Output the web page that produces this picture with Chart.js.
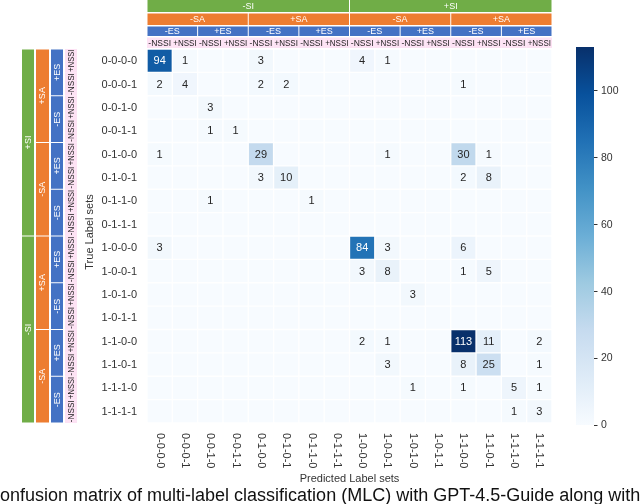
<!DOCTYPE html>
<html>
<head>
<meta charset="utf-8">
<script src="https://cdn.jsdelivr.net/npm/chart.js@4.4.1/dist/chart.umd.min.js"></script>
<style>
  html, body { margin: 0; padding: 0; background: #fff; }
  #wrap { width: 640px; height: 504px; position: relative; }
</style>
</head>
<body>
<div id="wrap"><canvas id="cm"></canvas></div>
<script>
// label set = SI-SA-ES-NSSI
const labelSets = ['0-0-0-0','0-0-0-1','0-0-1-0','0-0-1-1','0-1-0-0','0-1-0-1','0-1-1-0','0-1-1-1',
                   '1-0-0-0','1-0-0-1','1-0-1-0','1-0-1-1','1-1-0-0','1-1-0-1','1-1-1-0','1-1-1-1'];

// rows = true, cols = predicted
const counts = [
  [94,1,0,0,3,0,0,0,4,1,0,0,0,0,0,0],
  [2,4,0,0,2,2,0,0,0,0,0,0,1,0,0,0],
  [0,0,3,0,0,0,0,0,0,0,0,0,0,0,0,0],
  [0,0,1,1,0,0,0,0,0,0,0,0,0,0,0,0],
  [1,0,0,0,29,0,0,0,0,1,0,0,30,1,0,0],
  [0,0,0,0,3,10,0,0,0,0,0,0,2,8,0,0],
  [0,0,1,0,0,0,1,0,0,0,0,0,0,0,0,0],
  [0,0,0,0,0,0,0,0,0,0,0,0,0,0,0,0],
  [3,0,0,0,0,0,0,0,84,3,0,0,6,0,0,0],
  [0,0,0,0,0,0,0,0,3,8,0,0,1,5,0,0],
  [0,0,0,0,0,0,0,0,0,0,3,0,0,0,0,0],
  [0,0,0,0,0,0,0,0,0,0,0,0,0,0,0,0],
  [0,0,0,0,0,0,0,0,2,1,0,0,113,11,0,2],
  [0,0,0,0,0,0,0,0,0,3,0,0,8,25,0,1],
  [0,0,0,0,0,0,0,0,0,0,1,0,1,0,5,1],
  [0,0,0,0,0,0,0,0,0,0,0,0,0,0,1,3]
];

const colorbarTicks = [0, 20, 40, 60, 80, 100];
const vmax = 113;

// header groups (top = predicted, left = true)
const topSI = ['-SI', '+SI'];
const topSA = ['-SA', '+SA', '-SA', '+SA'];
const topES = ['-ES', '+ES', '-ES', '+ES', '-ES', '+ES', '-ES', '+ES'];
const topNSSI = ['-NSSI', '+NSSI'];
const leftSI = ['+SI', '-SI'];
const leftSA = ['+SA', '-SA', '+SA', '-SA'];
const leftES = ['+ES', '-ES', '+ES', '-ES', '+ES', '-ES', '+ES', '-ES'];
const leftNSSI = ['+NSSI', '-NSSI'];

// Blues kolormap kira2 kayak matplotlib
const bluesStops = [
  [247,251,255],[222,235,247],[198,219,239],[158,202,225],[107,174,214],
  [66,146,198],[33,113,181],[8,81,156],[8,48,107]
];
function blues(t) {
  t = Math.max(0, Math.min(1, t));
  const p = t * (bluesStops.length - 1);
  const i = Math.min(Math.floor(p), bluesStops.length - 2);
  const f = p - i;
  const a = bluesStops[i], b = bluesStops[i + 1];
  const c = a.map((v, k) => Math.round(v + (b[k] - v) * f));
  return 'rgb(' + c.join(',') + ')';
}

const GREEN = '#70ad47', ORANGE = '#ed7d31', BLUE = '#4472c4', PINK = '#fde2f4';
const FONT = '"Liberation Sans", Arial, sans-serif';

const datasets = counts.map((row, r) => ({
  label: labelSets[r],
  data: row.map(() => [r, r + 1]),
  counts: row,
  backgroundColor: row.map(v => blues(v / vmax)),
  borderColor: '#ffffff',
  borderWidth: 1,
  borderSkipped: false,
  grouped: false,
  barPercentage: 1,
  categoryPercentage: 1
}));

// tulis angka di tiap sel
const cellText = {
  id: 'cellText',
  afterDatasetsDraw(chart) {
    const ctx = chart.ctx;
    ctx.save();
    ctx.font = '11px ' + FONT;
    ctx.textAlign = 'center';
    ctx.textBaseline = 'middle';
    chart.data.datasets.forEach((ds, i) => {
      chart.getDatasetMeta(i).data.forEach((el, j) => {
        const v = ds.counts[j];
        if (!v) return;
        ctx.fillStyle = v / vmax > 0.6 ? '#ffffff' : '#262626';
        ctx.fillText(String(v), el.x, (el.y + el.base) / 2 + 0.5);
      });
    });
    ctx.restore();
  }
};

function box(ctx, x0, y0, x1, y1, fill, text, color, font, rotate, maxW) {
  ctx.fillStyle = fill;
  ctx.fillRect(x0, y0, x1 - x0, y1 - y0);
  ctx.save();
  ctx.fillStyle = color;
  ctx.font = font;
  ctx.textAlign = 'center';
  ctx.textBaseline = 'middle';
  ctx.translate((x0 + x1) / 2, (y0 + y1) / 2);
  if (rotate) ctx.rotate(-Math.PI / 2);
  if (maxW) ctx.fillText(text, 0, 0.5, maxW);
  else ctx.fillText(text, 0, 0.5);
  ctx.restore();
}

// header, label, colorbar, caption
const decor = {
  id: 'decor',
  afterDraw(chart) {
    const ctx = chart.ctx;
    const xs = chart.scales.x;
    const L = chart.chartArea.left, R = chart.chartArea.right;
    const T = chart.chartArea.top, B = chart.chartArea.bottom;
    const cw = (R - L) / 16, rh = (B - T) / 16;
    const hf = '9px ' + FONT;
    const nf = '8.5px ' + FONT;
    ctx.save();

    // atas
    topSI.forEach((t, i) => box(ctx, L + i * 8 * cw + 0.5, 0, L + (i + 1) * 8 * cw - 0.5, 12, GREEN, t, '#fff', hf));
    topSA.forEach((t, i) => box(ctx, L + i * 4 * cw + 0.5, 13.5, L + (i + 1) * 4 * cw - 0.5, 25, ORANGE, t, '#fff', hf));
    topES.forEach((t, i) => box(ctx, L + i * 2 * cw + 0.5, 26.5, L + (i + 1) * 2 * cw - 0.5, 36, BLUE, t, '#fff', hf));
    for (let i = 0; i < 16; i++) {
      box(ctx, L + i * cw, 37.5, L + (i + 1) * cw, 48, PINK, topNSSI[i % 2], '#222', nf, false, cw - 2);
    }

    // kiri
    leftSI.forEach((t, i) => box(ctx, 22, T + i * 8 * rh + 0.5, 34, T + (i + 1) * 8 * rh - 0.5, GREEN, t, '#fff', hf, true));
    leftSA.forEach((t, i) => box(ctx, 36, T + i * 4 * rh + 0.5, 49, T + (i + 1) * 4 * rh - 0.5, ORANGE, t, '#fff', hf, true));
    leftES.forEach((t, i) => box(ctx, 51, T + i * 2 * rh + 0.5, 63, T + (i + 1) * 2 * rh - 0.5, BLUE, t, '#fff', hf, true));
    for (let i = 0; i < 16; i++) {
      box(ctx, 65, T + i * rh, 77, T + (i + 1) * rh, PINK, leftNSSI[i % 2], '#222', nf, true, rh - 1.5);
    }

    // tick label
    ctx.fillStyle = '#333';
    ctx.font = '11px ' + FONT;
    ctx.textBaseline = 'middle';
    ctx.textAlign = 'right';
    labelSets.forEach((t, i) => ctx.fillText(t, 137, T + (i + 0.5) * rh + 0.5));
    labelSets.forEach((t, i) => {
      const x = xs.getPixelForValue(i);
      ctx.save();
      ctx.translate(x, 433);
      ctx.rotate(Math.PI / 2);
      ctx.textAlign = 'left';
      ctx.fillText(t, 0, 0);
      ctx.restore();
    });

    // judul sumbu
    ctx.font = '11px ' + FONT;
    ctx.textAlign = 'center';
    ctx.fillText('Predicted Label sets', (L + R) / 2, 479);
    ctx.save();
    ctx.translate(90, 232);
    ctx.rotate(-Math.PI / 2);
    ctx.fillText('True Label sets', 0, 0);
    ctx.restore();

    // colorbar
    const cx = 576, cwid = 18, ctop = 47, cbot = 425;
    const g = ctx.createLinearGradient(0, cbot, 0, ctop);
    bluesStops.forEach((s, k) => g.addColorStop(k / (bluesStops.length - 1), 'rgb(' + s.join(',') + ')'));
    ctx.fillStyle = g;
    ctx.fillRect(cx, ctop, cwid, cbot - ctop);
    ctx.strokeStyle = '#333';
    ctx.lineWidth = 1;
    ctx.font = '10.5px ' + FONT;
    ctx.textAlign = 'left';
    colorbarTicks.forEach(v => {
      const y = cbot - v / vmax * (cbot - ctop);
      ctx.beginPath();
      ctx.moveTo(cx + cwid, Math.round(y) + 0.5);
      ctx.lineTo(cx + cwid + 3.5, Math.round(y) + 0.5);
      ctx.stroke();
      ctx.fillStyle = '#333';
      ctx.fillText(String(v), cx + cwid + 7, y + 0.5);
    });

    // caption
    ctx.fillStyle = '#111';
    ctx.font = '18px ' + FONT;
    ctx.textAlign = 'left';
    ctx.textBaseline = 'alphabetic';
    ctx.fillText('Confusion matrix of multi-label classification (MLC) with GPT-4.5-Guide along with', -13, 501);
    ctx.restore();
  }
};

const ctx = document.getElementById('cm');
new Chart(ctx, {
  type: 'bar',
  data: { labels: labelSets, datasets: datasets },
  options: {
    responsive: true,
    maintainAspectRatio: false,
    animation: false,
    layout: { padding: { left: 147, right: 88, top: 49, bottom: 81 } },
    scales: {
      x: { type: 'category', display: false, offset: true },
      y: { type: 'linear', display: false, min: 0, max: 16, reverse: true }
    },
    plugins: {
      legend: { display: false },
      tooltip: { enabled: false }
    }
  },
  plugins: [cellText, decor]
});
</script>
</body>
</html>
